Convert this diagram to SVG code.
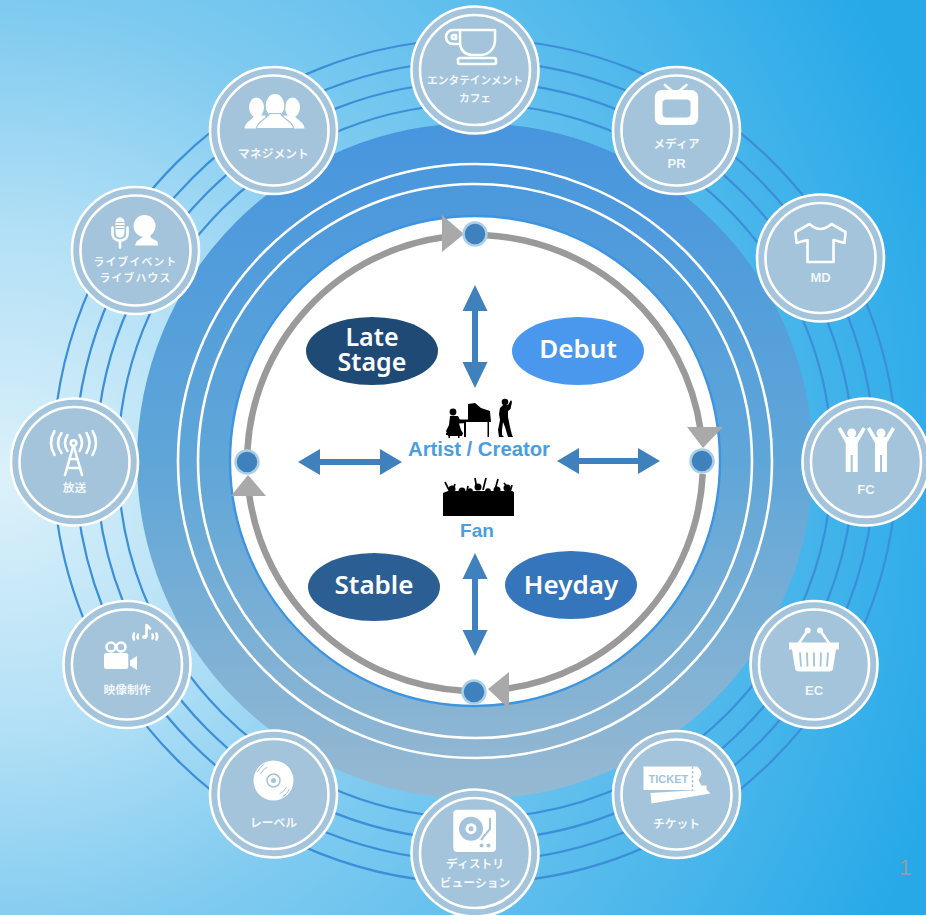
<svg xmlns="http://www.w3.org/2000/svg" width="926" height="915" viewBox="0 0 926 915">
<style>
.ring{fill:none;stroke:#3c8ed8;stroke-width:2.2}
.wring{fill:none;stroke:#fff;stroke-width:2.6}
.disc{fill:#a3c4da;stroke:#fff;stroke-width:2.6}
.inner{fill:none;stroke:#fff;stroke-width:2.6}
.lab{font-family:"Noto Sans CJK JP","Liberation Sans",sans-serif;font-weight:700;font-size:11.8px;fill:#fff;fill-opacity:.88;text-anchor:middle}
.lat{font-family:"Liberation Sans",sans-serif;font-weight:700;font-size:13px;fill:#fff;fill-opacity:.88;text-anchor:middle}
.w{fill:#fff}
.ws{fill:none;stroke:#fff;stroke-width:2.6;stroke-linecap:round;stroke-linejoin:round}
.bgf{fill:#a3c4da}
.bgs{fill:none;stroke:#a3c4da}
.stage{font-family:"Noto Sans",sans-serif;font-weight:600;font-size:26px;fill:#fff;text-anchor:middle}
.core{font-family:"Liberation Sans",sans-serif;font-weight:700;font-size:19px;fill:#4a9ede;text-anchor:middle}
.tri{fill:#a9a9a9}
.arc{fill:none;stroke:#9a9a9a;stroke-width:6.500}
.dot{fill:#3f81bd;stroke:#a9cfe6;stroke-width:2.5}
.dbl{fill:#3f81bd}
</style>
<defs>
<radialGradient id="bg" gradientUnits="userSpaceOnUse" cx="0" cy="480" r="985">
<stop offset="0" stop-color="#dcf1fa"/><stop offset=".25" stop-color="#b3e0f6"/><stop offset=".47" stop-color="#80cbf0"/><stop offset=".72" stop-color="#56bbec"/><stop offset="1" stop-color="#27a9e8"/>
</radialGradient>
<linearGradient id="band" gradientUnits="userSpaceOnUse" x1="0" y1="122" x2="0" y2="800">
<stop offset="0" stop-color="#4795de"/><stop offset=".5" stop-color="#5fa6d8"/><stop offset="1" stop-color="#97b9d2"/>
</linearGradient>
</defs>
<rect id="background" width="926" height="915" fill="url(#bg)"/>
<g id="outer-rings">
<circle class="ring" cx="475" cy="461" r="422"/>
<circle class="ring" cx="475" cy="461" r="400"/>
<circle class="ring" cx="475" cy="461" r="379"/>
<circle class="ring" cx="475" cy="461" r="357"/>
</g>
<g id="band-disc">
<circle cx="475" cy="461" r="338" fill="url(#band)"/>
<circle class="wring" cx="475" cy="461" r="297"/>
<circle class="wring" cx="475" cy="461" r="277"/>
<circle cx="475" cy="461" r="245" fill="#fff" stroke="#3d94e0" stroke-width="2.4"/>
</g>
<g id="connectors">
<path class="arc" d="M486 235.300A228 228 0 0 1 700.600 430"/>
<path class="arc" d="M702.700 474A228 228 0 0 1 505 689"/>
<path class="arc" d="M463 690.700A228 228 0 0 1 249.100 494"/>
<path class="arc" d="M247.400 450A228 228 0 0 1 445 237"/>
<polygon class="tri" points="442,215 464,234 442,252"/>
<polygon class="tri" points="687,427 723,427 703,448"/>
<polygon class="tri" points="509,672 509,709 488,689"/>
<polygon class="tri" points="231,496 266,496 248,475"/>
<path class="dbl" d="M475 285L487.500 311H478V362H487.500L475 388L462.500 362H472V311H462.500Z"/>
<path class="dbl" d="M475 553L487.500 579H478V630H487.500L475 656L462.500 630H472V579H462.500Z"/>
<path class="dbl" d="M298 462L320 449V459H380V449L402 462L380 475V465H320V475Z"/>
<path class="dbl" d="M557 461L579 448V458H638V448L660 461L638 474V464H579V474Z"/>
</g>
<g id="stage-dots">
<circle class="dot" cx="475" cy="234" r="11.500"/>
<circle class="dot" cx="702" cy="461" r="11.500"/>
<circle class="dot" cx="247" cy="462" r="11.500"/>
<circle class="dot" cx="474" cy="692" r="11.500"/>
</g>
<g id="stage-late"><ellipse cx="372" cy="351" rx="66" ry="34" fill="#1f4a75"/><text class="stage" style="font-size:25px"><tspan x="372" y="346">Late</tspan><tspan x="372" y="370.500">Stage</tspan></text></g>
<g id="stage-debut"><ellipse cx="578" cy="351" rx="66" ry="34" fill="#4a98ee"/><text class="stage" x="578" y="358">Debut</text></g>
<g id="stage-stable"><ellipse cx="374" cy="587" rx="66" ry="34" fill="#2b5f94"/><text class="stage" x="374" y="594">Stable</text></g>
<g id="stage-heyday"><ellipse cx="571" cy="585" rx="66" ry="34" fill="#3575bb"/><text class="stage" x="571" y="594">Heyday</text></g>
<g id="artist">
<path d="M459 419.500L468 419.500V404L475 403L481 408L490 411L491 422H489V437H487.500V422H466V437H464V422.500H459Z" fill="#000"/>
<circle cx="453" cy="412" r="3.400" fill="#000"/>
<path d="M450 416L458 416L460 420L466 421V423L459 423.500L461 430L463 433L462 436H448L446 431L449 425Z" fill="#000"/>
<path d="M446 433H461V435H459.500V438H458V435H450V438H448.500V435H446Z" fill="#000"/>
<circle cx="505" cy="402" r="3.300" fill="#000"/>
<path d="M500 408L503 405L508 405L511 400L512 402L510.500 409L508 411L508 417L510 427L512 435L513 437H508L505 427L503 422L502 430L502 435L504 437H499L498 430L500 420L499 414Z" fill="#000"/>
<text class="core" style="font-size:20.300px" x="479" y="456">Artist / Creator</text>
</g>
<g id="fan">
<path d="M443 516V493L448 491H512L514 492V516Z" fill="#000"/>
<g fill="#000"><circle cx="452" cy="489" r="3.500"/><circle cx="462" cy="491" r="3.500"/><circle cx="470" cy="491" r="2.800"/><circle cx="478" cy="487" r="3.500"/><circle cx="488" cy="491" r="2.800"/><circle cx="497" cy="490" r="3.500"/><circle cx="507" cy="488" r="3.500"/></g>
<path d="M445 482L450 492M455 484L453 490M475 478L477 490M486 478L483 490M498 479L495 490M504 483L510 490M512 485L510 492M468 486L467 491" fill="none" stroke="#000" stroke-width="1.700"/>
<text class="core" x="477" y="537">Fan</text>
</g>
<g id="node-cafe" transform="translate(475 70)">
<circle class="disc" r="63.500"/><circle class="inner" r="55"/>
<path class="ws" d="M-15 -40H20V-30C20 -22 14 -15 6 -15H-2C-10 -15 -14 -20 -15 -26H-22C-27 -26 -29 -30 -29 -33C-29 -37 -26 -40 -22 -40H-15"/>
<path class="ws" stroke-width="2" d="M-15 -40V-26M-21 -35C-24 -35 -24 -31 -21 -31H-19V-35Z"/>
<rect class="ws" x="-17" y="-12" width="38" height="6" rx="2"/>
<text class="lab" style="font-size:10.700px" y="14">エンタテインメント</text><text class="lab" style="font-size:10.700px" y="32">カフェ</text>
</g>
<g id="node-media" transform="translate(676.500 130.500)">
<circle class="disc" r="63.500"/><circle class="inner" r="55"/>
<path class="ws" d="M-11.700 -45.500L-5 -40M10 -45.500L3.300 -40"/>
<rect class="w" x="-21.700" y="-40.500" width="43.400" height="35" rx="7"/><rect class="bgf" x="-14" y="-31" width="28" height="18" rx="4"/>
<text class="lab" y="17">メディア</text><text class="lat" y="37">PR</text>
</g>
<g id="node-md" transform="translate(820.500 258)">
<circle class="disc" r="63.500"/><circle class="inner" r="55"/>
<path class="ws" d="M-11 -34Q0 -24 11 -34L25 -26L24 -15L13 -18V4H-13V-18L-24 -15L-25 -26Z"/>
<text class="lat" y="24">MD</text>
</g>
<g id="node-fc" transform="translate(866 462)">
<circle class="disc" r="63.500"/><circle class="inner" r="55"/>
<g id="fc-a" transform="translate(-14.300 0)"><circle class="w" cy="-29" r="4.500"/><path class="w" d="M-11 -35L-5 -25H5L11 -35L14 -33L6 -19V-8V10H1V-7H-1V10H-6V-8V-19L-14 -33Z"/></g>
<g id="fc-b" transform="translate(15 0)"><circle class="w" cy="-29" r="4.500"/><path class="w" d="M-11 -35L-5 -25H5L11 -35L14 -33L6 -19V-8V10H1V-7H-1V10H-6V-8V-19L-14 -33Z"/></g>
<text class="lat" y="32">FC</text>
</g>
<g id="node-ec" transform="translate(814 664.500)">
<circle class="disc" r="63.500"/><circle class="inner" r="55"/>
<circle class="w" cx="-6.300" cy="-34" r="3"/><circle class="w" cx="6" cy="-34" r="3"/>
<path class="ws" d="M-7 -33L-16 -20M7 -33L16 -20"/>
<path class="w" d="M-25 -22H25V-15H22L19 4C19 6 17 7 15 7H-15C-17 7 -19 6 -19 4L-22 -15H-25Z"/>
<path class="bgs" stroke-width="1.800" d="M-14 -12L-13 2M-7 -12L-6.500 2M0 -12V2M7 -12L6.500 2M14 -12L13 2"/>
<text class="lat" y="30">EC</text>
</g>
<g id="node-ticket" transform="translate(676.500 794.500)">
<circle class="disc" r="63.500"/><circle class="inner" r="55"/>
<path class="w" d="M-33 -28H21L24 -24L25 -20L22 -14L25 -9L30 -9L30 -4.500H-33Z"/>
<path class="w" d="M-26 -1.500L30 -5L34 -1L-25 9Z"/>
<text x="-28" y="-11.500" style="font-family:'Liberation Sans',sans-serif;font-weight:700;font-size:11px;fill:#a3c4da">TICKET</text>
<path class="bgs" stroke-width="1.500" stroke-dasharray="2.500 2" d="M16 -28V-4"/>
<text class="lab" y="33">チケット</text>
</g>
<g id="node-dist" transform="translate(475 853)">
<circle class="disc" r="63.500"/><circle class="inner" r="55"/>
<rect class="w" x="-21.700" y="-43.300" width="42.700" height="42.300" rx="4"/>
<circle class="bgf" cx="-4" cy="-24.300" r="12"/><circle r="5.500" cx="-4" cy="-24.300" class="w"/><circle class="bgf" cx="-4" cy="-24.300" r="2.500"/>
<path class="bgs" stroke-width="2" d="M15 -35V-24L6 -13"/>
<circle class="bgf" cx="6.500" cy="-7.500" r="2"/><circle class="bgf" cx="13.500" cy="-7.500" r="2"/>
<text class="lab" y="15">ディストリ</text><text class="lab" y="34">ビューション</text>
</g>
<g id="node-label" transform="translate(273.500 794)">
<circle class="disc" r="63.500"/><circle class="inner" r="55"/>
<circle class="w" cy="-13.500" r="20"/><circle class="bgs" stroke-width="1.500" cy="-13.500" r="6.500"/><circle class="bgf" cy="-13.500" r="2.500"/>
<path class="bgs" stroke-width="1" d="M-13 -20A14 14 0 0 1 -6 -27M-16 -22A18 18 0 0 1 -9 -30M13 -7A14 14 0 0 1 6 0M16 -5A18 18 0 0 1 9 3"/>
<text class="lab" y="33">レーベル</text>
</g>
<g id="node-video" transform="translate(127 664.500)">
<circle class="disc" r="63.500"/><circle class="inner" r="55"/>
<circle class="ws" cx="-16" cy="-17.500" r="4.500" stroke-width="2"/><circle class="ws" cx="-6" cy="-17.500" r="4.500" stroke-width="2"/>
<rect class="w" x="-23" y="-11.500" width="24.300" height="16" rx="2.500"/>
<path class="w" d="M3 -4L10 -8.500V5.500L3 1Z"/>
<path class="ws" stroke-width="1.400" d="M19.500 -28V-39.500L23 -36"/><ellipse class="w" cx="17.500" cy="-27.500" rx="2.500" ry="2"/>
<path class="ws" stroke-width="1.200" d="M7 -31Q5.500 -28 7 -25M11 -30Q10 -28 11 -26M25.500 -30Q26.500 -28 25.500 -26M29.500 -31Q31 -28 29.500 -25"/>
<text class="lab" y="29">映像制作</text>
</g>
<g id="node-broadcast" transform="translate(74.500 462)">
<circle class="disc" r="63.500"/><circle class="inner" r="55"/>
<circle class="ws" cx="-1" cy="-19" r="2.800" stroke-width="1.800"/>
<path class="ws" stroke-width="1.800" d="M-1.500 -15L-9.500 13M-0.500 -15L7.500 13M-4.500 -3H3M-7 6H6"/>
<path class="ws" stroke-width="1.800" d="M-7 -27Q-12 -19 -7 -11M-13 -29Q-20 -19 -13 -9M-20 -31Q-27 -19 -20 -7M5 -27Q10 -19 5 -11M12 -29Q18 -19 12 -9M18 -31Q25 -19 18 -7"/>
<text class="lab" y="30">放送</text>
</g>
<g id="node-live" transform="translate(135.500 250.500)">
<circle class="disc" r="63.500"/><circle class="inner" r="55"/>
<circle class="w" cx="9" cy="-24.500" r="11"/>
<path class="w" d="M-1.500 -23L4 -20L8 -16V-14L1 -9L-0.500 -5H22.500L22 -9L15 -13V-20Z"/>
<rect class="w" x="-20" y="-33" width="9" height="20" rx="4.500"/>
<path class="ws" stroke-width="1.500" d="M-23 -23V-17C-23 -12 -19 -10 -15.500 -10C-12 -10 -8 -12 -8 -17V-23M-15.500 -10V-3"/>
<path class="bgs" stroke-width="1" d="M-20 -28H-11M-20 -25H-11M-20 -22H-11"/>
<text class="lab" style="font-size:10.800px;letter-spacing:1.200px" y="15.500">ライブイベント</text><text class="lab" style="font-size:10.800px;letter-spacing:1.200px" y="31.500">ライブハウス</text>
</g>
<g id="node-mgmt" transform="translate(273.500 130.500)">
<circle class="disc" r="63.500"/><circle class="inner" r="55"/>
<ellipse class="w" cx="-17" cy="-23" rx="7.500" ry="10"/><ellipse class="w" cx="19" cy="-23" rx="7.500" ry="10"/>
<path class="w" d="M-29 -2C-29 -8 -21 -11 -19 -15H-8V-2ZM31 -2C31 -8 23 -11 21 -15H10V-2Z"/>
<ellipse class="w" cx="1.500" cy="-25" rx="10" ry="12" stroke="#a3c4da" stroke-width="1.200"/>
<path class="w" d="M-17 -2C-17 -9 -7 -11 -4 -17H7C10 -11 20 -9 20 -2Z" stroke="#a3c4da" stroke-width="1.200"/>
<text class="lab" y="27">マネジメント</text>
</g>
<text id="page-number" x="905" y="875" text-anchor="middle" style="font-family:'Liberation Sans',sans-serif;font-size:22px;fill:#8f9ea8">1</text>
</svg>
